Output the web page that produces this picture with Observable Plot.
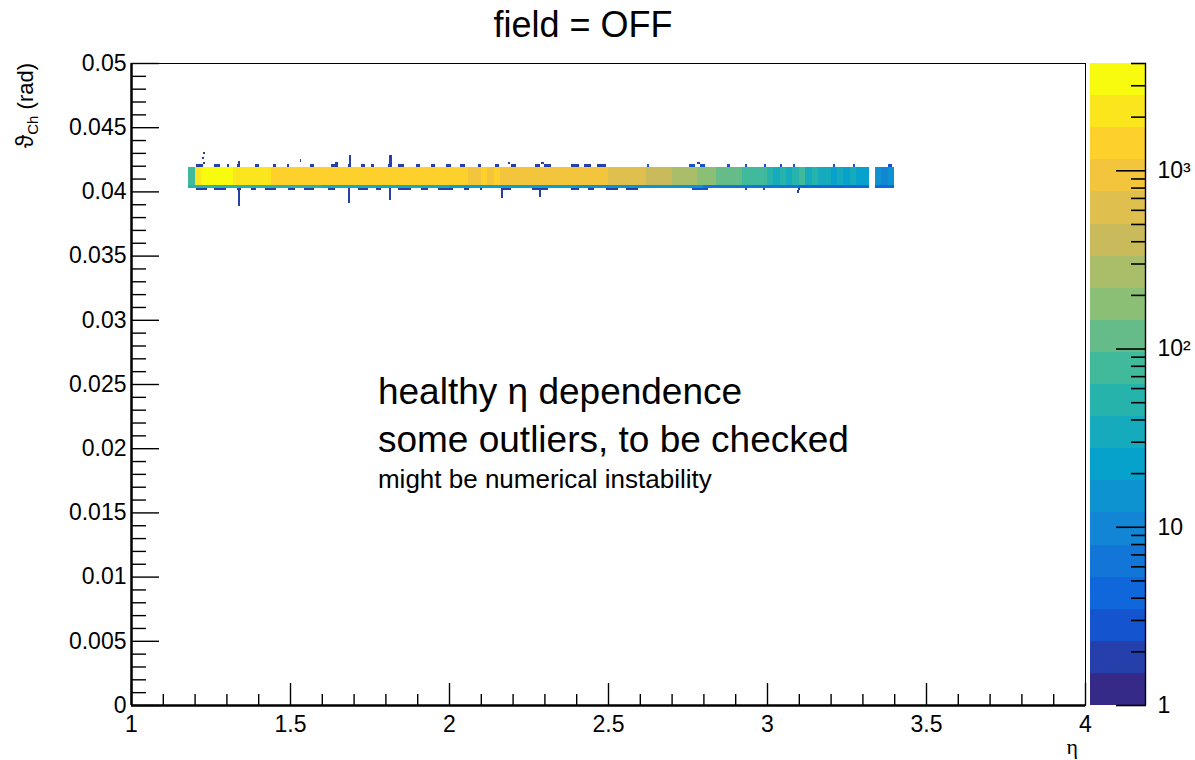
<!DOCTYPE html>
<html><head><meta charset="utf-8">
<script src="https://cdn.jsdelivr.net/npm/d3@7"></script>
<script src="https://cdn.jsdelivr.net/npm/@observablehq/plot@0.6"></script>
<style>
body{margin:0;background:#fff;font-family:"Liberation Sans",Arial,sans-serif;}
#wrap{position:relative;width:1195px;height:760px;overflow:hidden;background:#fff;}
#main{position:absolute;left:0;top:0;}
#cbar{position:absolute;left:1088px;top:0;}
#title{position:absolute;left:583px;top:4px;transform:translateX(-50%);white-space:nowrap;font-size:36px;color:#000;}
</style></head><body>
<div id="wrap"><div id="main"></div><div id="cbar"></div><div id="title">field = OFF</div></div>
<script>
// ---------------- data ----------------
// 2D histogram: eta columns (width 0.02 starting at 1.18), core band rows in theta_Ch
const etaStart = 1.18, etaStep = 0.02;
const coreY = [0.0405, 0.0419];
const edgeY = [0.0403, 0.0405];
const bandCounts = [
  70,
  2400, 2800, 2950, 2850, 2700,
  2650, 2500, 2300, 2100, 1950, 1850, 1780,
  1700, 1650, 1600, 1560, 1520, 1480, 1450, 1420,
  1400, 1380, 1360, 1340, 1320, 1300, 1360, 1290, 1280, 1270, 1260, 1300, 1250, 1240, 1230,
  1220, 1210, 1250, 1190, 1180, 1170, 1210, 1160, 1150, 1140, 1160, 1130, 1170, 1120, 1150,
  1110, 1140, 1090, 1080, 1060, 1040, 1020, 990, 960, 930,
  900, 870, 840, 800, 770, 740, 700, 660, 620, 580,
  520, 470, 430, 390, 350, 320, 290, 260, 240, 215,
  190, 160, 140, 125, 110, 100, 85, 90, 70, 64,
  45, 38, 58, 32, 42, 66, 30, 48, 36, 30,
  26, 34, 22, 28, 19, 24,
  0, 14, 12, 16
];
// lower edge row of the band: [eta0, eta1, count]
const bottomEdge = [[1.18,1.60,45],[1.60,2.00,35],[2.00,2.40,25],[2.40,2.80,14],[2.80,3.10,7],[3.10,3.32,5],[3.34,3.40,4]];
// outlier rows just above / below the band: [eta0, eta1, count]
const rowAboveY = [0.0419, 0.0421];
const rowBelowY = [0.0401, 0.0403];
const outAbove = [
  [1.205,1.225,2],[1.262,1.280,2],[1.302,1.308,2],[1.333,1.342,2],[1.390,1.402,2],[1.445,1.455,2],
  [1.492,1.498,2],[1.563,1.575,2],[1.630,1.652,2],[1.683,1.692,2],[1.724,1.736,2],[1.755,1.765,2],
  [1.808,1.820,2],[1.840,1.860,2],[1.895,1.910,2],[1.944,1.956,2],[1.990,2.005,2],[2.035,2.050,2],
  [2.090,2.102,2],[2.144,2.156,2],[2.195,2.212,2],[2.270,2.285,2],[2.300,2.320,2],[2.385,2.410,2],
  [2.425,2.445,2],[2.465,2.495,2],[2.622,2.628,3],[2.755,2.775,3],[2.790,2.805,3],[2.875,2.885,3],
  [2.932,2.938,3],[2.992,2.998,3],[3.042,3.048,3],[3.082,3.088,3],[3.208,3.215,3],[3.272,3.278,3],
  [3.382,3.392,3]
];
const outBelow = [
  [1.203,1.240,2],[1.262,1.300,2],[1.332,1.346,2],[1.378,1.392,2],[1.420,1.455,2],[1.493,1.515,2],
  [1.545,1.575,2],[1.618,1.640,2],[1.681,1.689,2],[1.714,1.745,2],[1.772,1.786,2],[1.811,1.819,2],
  [1.840,1.882,2],[1.913,1.935,2],[1.965,2.012,2],[2.046,2.062,2],[2.098,2.105,2],[2.162,2.195,2],
  [2.262,2.310,2],[2.383,2.410,2],[2.438,2.456,2],[2.493,2.530,2],[2.558,2.595,2],[2.765,2.815,3],
  [2.932,2.938,3],[2.987,2.993,3],[3.096,3.103,2]
];
// isolated taller outliers: [eta0, eta1, y0, y1, count]
const outSpikes = [
  [1.225,1.232,0.0421,0.0423,2],[1.222,1.230,0.0425,0.0427,2],[1.225,1.232,0.0429,0.0431,2],
  [1.335,1.342,0.0421,0.0424,2],[1.530,1.536,0.0423,0.0425,2],[1.640,1.650,0.0421,0.0423,2],
  [1.685,1.692,0.0421,0.0428,2],[1.812,1.820,0.0421,0.0428,2],[2.185,2.192,0.0421,0.0423,2],
  [2.290,2.300,0.0421,0.0423,2],[2.780,2.790,0.0421,0.0423,2],
  [1.335,1.343,0.0389,0.0401,2],[1.683,1.690,0.0391,0.0401,2],[1.812,1.819,0.0393,0.0401,2],
  [2.163,2.170,0.0395,0.0401,2],[2.282,2.290,0.0396,0.0401,2],[3.095,3.102,0.0399,0.0401,2]
];
// axes
const xMajor = [1, 1.5, 2, 2.5, 3, 3.5, 4];
const xMinor = [1.1,1.2,1.3,1.4,1.6,1.7,1.8,1.9,2.1,2.2,2.3,2.4,2.6,2.7,2.8,2.9,3.1,3.2,3.3,3.4,3.6,3.7,3.8,3.9];
const yMajor = [0, 0.005, 0.01, 0.015, 0.02, 0.025, 0.03, 0.035, 0.04, 0.045, 0.05];
const yMajorText = ["0", "0.005", "0.01", "0.015", "0.02", "0.025", "0.03", "0.035", "0.04", "0.045", "0.05"];
const yMinor = [0.001,0.002,0.003,0.004,0.006,0.007,0.008,0.009,0.011,0.012,0.013,0.014,0.016,0.017,0.018,0.019,
  0.021,0.022,0.023,0.024,0.026,0.027,0.028,0.029,0.031,0.032,0.033,0.034,0.036,0.037,0.038,0.039,
  0.041,0.042,0.043,0.044,0.046,0.047,0.048,0.049];
// colour bar
const zMin = 1, zMax = 4000, nLevels = 20;
const zMajor = [1, 10, 100, 1000];
const zMajorText = ["1", "10", "10²", "10³"];
const zMinor = [2,3,4,5,6,7,8,9,20,30,40,50,60,70,80,90,200,300,400,500,600,700,800,900,2000,3000,4000];
// ROOT kBird palette stops
const birdStops = [0, 0.125, 0.25, 0.375, 0.5, 0.625, 0.75, 0.875, 1];
const birdR = [0.2082, 0.0592, 0.0780, 0.0232, 0.1802, 0.5301, 0.8186, 0.9956, 0.9764];
const birdG = [0.1664, 0.3599, 0.5041, 0.6419, 0.7178, 0.7492, 0.7328, 0.7862, 0.9832];
const birdB = [0.5293, 0.8684, 0.8385, 0.7914, 0.6425, 0.4662, 0.3499, 0.1968, 0.0539];
// annotation
const noteLines = ["healthy η dependence", "some outliers, to be checked", "might be numerical instability"];
const noteX = 1.775;
const noteY = [0.02345, 0.01975, 0.01695];
const noteSize = [37, 37, 26];

// ---------------- build ----------------
const birdScale = d3.scaleLinear().domain(birdStops)
  .range(birdStops.map((s,i) => d3.rgb(birdR[i]*255, birdG[i]*255, birdB[i]*255).toString()))
  .interpolate(d3.interpolateRgb);
const levelEdges = d3.range(nLevels + 1).map(i => zMin * Math.pow(zMax / zMin, i / nLevels));
const levelThresholds = levelEdges.slice(1, -1);
const levelColors = d3.range(nLevels).map(i => birdScale(i / (nLevels - 1)));
const levels = d3.range(nLevels).map(i => ({lo: levelEdges[i], hi: levelEdges[i+1], mid: Math.sqrt(levelEdges[i]*levelEdges[i+1])}));

const cells = [];
bandCounts.forEach((n, i) => {
  if (n > 0) cells.push({x1: etaStart + i*etaStep, x2: etaStart + (i+1)*etaStep, y1: coreY[0], y2: coreY[1], n});
});
bottomEdge.forEach(([a,b,n]) => cells.push({x1:a, x2:b, y1:edgeY[0], y2:edgeY[1], n}));
outAbove.forEach(([a,b,n]) => cells.push({x1:a, x2:b, y1:rowAboveY[0], y2:rowAboveY[1], n}));
outBelow.forEach(([a,b,n]) => cells.push({x1:a, x2:b, y1:rowBelowY[0], y2:rowBelowY[1], n}));
outSpikes.forEach(([a,b,c,d,n]) => cells.push({x1:a, x2:b, y1:c, y2:d, n}));

const colorOpt = {type: "threshold", domain: levelThresholds, range: levelColors};
const font = "'Liberation Sans', Arial, sans-serif";

const main = Plot.plot({
  width: 1195, height: 760,
  marginLeft: 131, marginRight: 110, marginTop: 63, marginBottom: 55,
  style: {fontFamily: font, background: "transparent", color: "black"},
  x: {domain: [1, 4]},
  y: {domain: [0, 0.05]},
  color: colorOpt,
  marks: [
    Plot.rect(cells, {x1: "x1", x2: "x2", y1: "y1", y2: "y2", fill: "n", shapeRendering: "crispEdges"}),
    Plot.text([noteLines[0]], {x: noteX, y: noteY[0], text: d => d, fontSize: noteSize[0], textAnchor: "start", lineAnchor: "bottom", fill: "black"}),
    Plot.text([noteLines[1]], {x: noteX, y: noteY[1], text: d => d, fontSize: noteSize[1], textAnchor: "start", lineAnchor: "bottom", fill: "black"}),
    Plot.text([noteLines[2]], {x: noteX, y: noteY[2], text: d => d, fontSize: noteSize[2], textAnchor: "start", lineAnchor: "bottom", fill: "black"}),
    Plot.frame({stroke: "black", strokeWidth: 1}),
    Plot.axisX(xMajor, {anchor: "bottom", tickSize: 22, dy: -22, fill: "none", label: null, strokeWidth: 1.4}),
    Plot.axisX(xMinor, {anchor: "bottom", tickSize: 11, dy: -11, fill: "none", label: null, strokeWidth: 1.4}),
    Plot.axisX(xMajor, {anchor: "bottom", tickSize: 0, tickPadding: 10, stroke: "none", fill: "black", fontSize: 23, tickFormat: d => String(d), label: null}),
    Plot.axisY(yMajor, {anchor: "left", tickSize: 28, dx: 28, fill: "none", label: null, strokeWidth: 1.4}),
    Plot.axisY(yMinor, {anchor: "left", tickSize: 15, dx: 15, fill: "none", label: null, strokeWidth: 1.4}),
    Plot.axisY(yMajor, {anchor: "left", tickSize: 0, tickPadding: 5, stroke: "none", fill: "black", fontSize: 23, tickFormat: d => yMajorText[yMajor.indexOf(d)], label: null}),
    Plot.ruleX([1], {stroke: "black", strokeWidth: 2.5}),
    Plot.ruleY([0], {stroke: "black", strokeWidth: 2.5})
  ]
});

// axis titles
const svg = d3.select(main);
const yl = svg.append("text")
  .attr("transform", "translate(33,63) rotate(-90)")
  .attr("text-anchor", "end")
  .attr("font-family", font)
  .attr("font-size", 22)
  .attr("fill", "black");
yl.append("tspan").attr("font-size", 24).text("ϑ");
yl.append("tspan").attr("font-size", 15).attr("dy", 5).text("Ch");
yl.append("tspan").attr("dy", -5).text(" (rad)");
svg.append("text")
  .attr("x", 1078).attr("y", 754)
  .attr("text-anchor", "end")
  .attr("font-family", "'Liberation Serif', 'DejaVu Serif', serif")
  .attr("font-size", 22)
  .attr("fill", "black")
  .text("η");
document.getElementById("main").append(main);

const cbar = Plot.plot({
  width: 107, height: 760,
  marginLeft: 2, marginRight: 50, marginTop: 63, marginBottom: 55,
  style: {fontFamily: font, background: "transparent", color: "black"},
  x: {domain: [0, 1], axis: null},
  y: {type: "log", domain: [zMin, zMax]},
  color: colorOpt,
  marks: [
    Plot.rect(levels, {x1: 0, x2: 1, y1: "lo", y2: "hi", fill: "mid", shapeRendering: "crispEdges"}),
    Plot.ruleX([1], {stroke: "black", strokeWidth: 1.4}),
    Plot.axisY(zMajor, {anchor: "right", tickSize: 30, dx: -30, fill: "none", label: null, strokeWidth: 1.6}),
    Plot.axisY(zMinor, {anchor: "right", tickSize: 15, dx: -15, fill: "none", label: null, strokeWidth: 1.6}),
    Plot.axisY(zMajor, {anchor: "right", tickSize: 0, tickPadding: 12, stroke: "none", fill: "black", fontSize: 23, tickFormat: d => zMajorText[zMajor.indexOf(d)], label: null})
  ]
});
document.getElementById("cbar").append(cbar);
</script>
</body></html>
